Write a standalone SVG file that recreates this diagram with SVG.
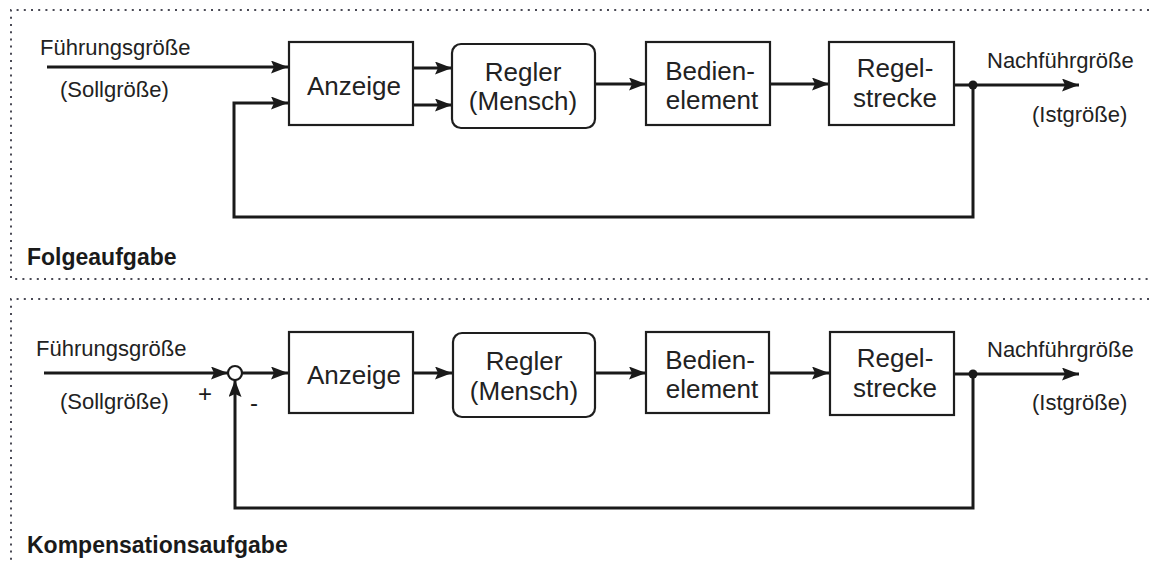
<svg xmlns="http://www.w3.org/2000/svg" width="1149" height="565" viewBox="0 0 1149 565">
  <style>
    .frame { fill: none; stroke: #4a4a55; stroke-width: 2; stroke-dasharray: 2 5.2; }
    .box { fill: #fff; stroke: #1e1e1e; stroke-width: 2.2; }
    .wire { fill: none; stroke: #1a1a1a; stroke-width: 3; }
    .lbl { font-family: "Liberation Sans", Arial, sans-serif; font-size: 26px; fill: #222; text-anchor: middle; }
    .side { font-family: "Liberation Sans", Arial, sans-serif; font-size: 22px; fill: #222; }
    .title { font-family: "Liberation Sans", Arial, sans-serif; font-size: 23px; font-weight: bold; fill: #1a1a1a; }
    .sign { font-family: "Liberation Sans", Arial, sans-serif; font-size: 24px; fill: #1a1a1a; text-anchor: middle; }
  </style>
  <defs>
    <marker id="arrow" viewBox="0 0 17 13" refX="17" refY="6.5" markerWidth="17" markerHeight="13" markerUnits="userSpaceOnUse" orient="auto">
      <path d="M0,0 L17,6.5 L0,13 L3,6.5 Z" fill="#1a1a1a"/>
    </marker>
  </defs>
  <rect width="1149" height="565" fill="#fff"/>

  <!-- dotted panel frames -->
  <g id="frames">
    <path class="frame" d="M1149,10 H11 V279 H1149"/>
    <path class="frame" d="M1149,299 H11 V565"/>
  </g>

  <!-- Folgeaufgabe -->
  <g id="connectors-top">
    <line class="wire" x1="47" y1="67" x2="288" y2="67" marker-end="url(#arrow)"/>
    <polyline class="wire" points="973,85 973,217 234,217 234,103 288,103" marker-end="url(#arrow)"/>
    <line class="wire" x1="413" y1="68" x2="452" y2="68" marker-end="url(#arrow)"/>
    <line class="wire" x1="413" y1="105" x2="452" y2="105" marker-end="url(#arrow)"/>
    <line class="wire" x1="595" y1="84" x2="646" y2="84" marker-end="url(#arrow)"/>
    <line class="wire" x1="770" y1="84" x2="829" y2="84" marker-end="url(#arrow)"/>
    <line class="wire" x1="954" y1="85" x2="1079" y2="85" marker-end="url(#arrow)"/>
    <circle cx="973" cy="85" r="4.5" fill="#1a1a1a"/>
  </g>
  <g id="t-anzeige">
    <rect class="box" x="289" y="42" width="124" height="83"/>
    <text class="lbl" x="354" y="95">Anzeige</text>
  </g>
  <g id="t-regler">
    <rect class="box" x="452" y="44" width="143" height="84" rx="9"/>
    <text class="lbl" x="523" y="81">Regler</text>
    <text class="lbl" x="523" y="110">(Mensch)</text>
  </g>
  <g id="t-bedien">
    <rect class="box" x="646" y="42" width="124" height="83"/>
    <text class="lbl" x="710" y="80">Bedien-</text>
    <text class="lbl" x="712" y="109">element</text>
  </g>
  <g id="t-strecke">
    <rect class="box" x="829" y="42" width="125" height="83"/>
    <text class="lbl" x="895" y="77">Regel-</text>
    <text class="lbl" x="895" y="107">strecke</text>
  </g>
  <g id="t-labels">
    <text class="side" x="40" y="55">Führungsgröße</text>
    <text class="side" x="60" y="97">(Sollgröße)</text>
    <text class="side" x="987" y="68">Nachführgröße</text>
    <text class="side" x="1032" y="122">(Istgröße)</text>
    <text class="title" x="27" y="265">Folgeaufgabe</text>
  </g>

  <!-- Kompensationsaufgabe -->
  <g id="connectors-bottom">
    <line class="wire" x1="44" y1="373" x2="228" y2="373" marker-end="url(#arrow)"/>
    <line class="wire" x1="242" y1="373" x2="288" y2="373" marker-end="url(#arrow)"/>
    <polyline class="wire" points="973,374 973,508 235,508 235,380" marker-end="url(#arrow)"/>
    <line class="wire" x1="413" y1="373" x2="452" y2="373" marker-end="url(#arrow)"/>
    <line class="wire" x1="595" y1="373" x2="646" y2="373" marker-end="url(#arrow)"/>
    <line class="wire" x1="769" y1="373" x2="829" y2="373" marker-end="url(#arrow)"/>
    <line class="wire" x1="954" y1="374" x2="1079" y2="374" marker-end="url(#arrow)"/>
    <circle cx="973" cy="374" r="4.5" fill="#1a1a1a"/>
  </g>
  <g id="b-summer">
    <circle cx="235" cy="373" r="7" fill="#fff" stroke="#1a1a1a" stroke-width="2.2"/>
    <text class="sign" x="205" y="402">+</text>
    <text class="sign" x="254" y="411">-</text>
  </g>
  <g id="b-anzeige">
    <rect class="box" x="289" y="332" width="124" height="81"/>
    <text class="lbl" x="354" y="384">Anzeige</text>
  </g>
  <g id="b-regler">
    <rect class="box" x="453" y="333" width="142" height="84" rx="9"/>
    <text class="lbl" x="524" y="370">Regler</text>
    <text class="lbl" x="524" y="400">(Mensch)</text>
  </g>
  <g id="b-bedien">
    <rect class="box" x="646" y="332" width="123" height="81"/>
    <text class="lbl" x="710" y="369">Bedien-</text>
    <text class="lbl" x="712" y="398">element</text>
  </g>
  <g id="b-strecke">
    <rect class="box" x="830" y="332" width="124" height="83"/>
    <text class="lbl" x="895" y="367">Regel-</text>
    <text class="lbl" x="895" y="397">strecke</text>
  </g>
  <g id="b-labels">
    <text class="side" x="36" y="356">Führungsgröße</text>
    <text class="side" x="60" y="409">(Sollgröße)</text>
    <text class="side" x="987" y="357">Nachführgröße</text>
    <text class="side" x="1032" y="410">(Istgröße)</text>
    <text class="title" x="27" y="553">Kompensationsaufgabe</text>
  </g>
</svg>
